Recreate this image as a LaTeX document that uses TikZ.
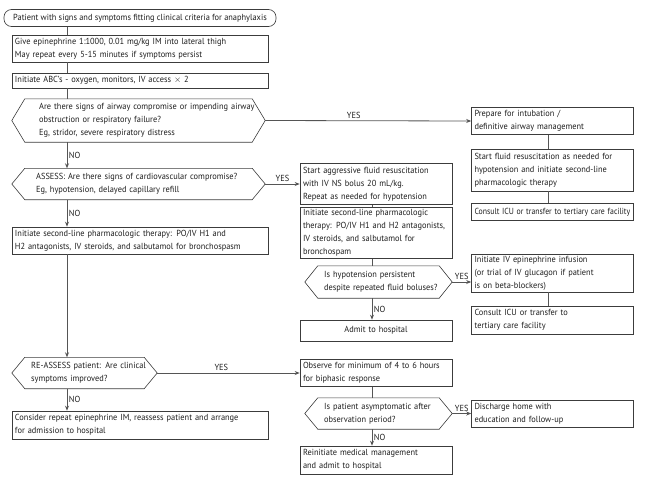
\documentclass[tikz,border=0pt]{standalone}
\usepackage{fontspec}
\setmainfont{PT Sans}[FakeStretch=0.95]
\usetikzlibrary{arrows.meta,calc}
\definecolor{bc}{HTML}{3C3C3C}
\definecolor{cc}{HTML}{555555}
\definecolor{tc}{HTML}{1E1E1E}
\hyphenpenalty=10000
\exhyphenpenalty=10000
\newcommand\fs{\fontsize{8.8}{13}\selectfont}
\newcommand\hexdraw[2]{\draw[draw=bc, line width=0.6pt] ($(#1.north west)+(#2,0)$) -- ($(#1.north east)-(#2,0)$) -- (#1.east) -- ($(#1.south east)-(#2,0)$) -- ($(#1.south west)+(#2,0)$) -- (#1.west) -- cycle;}
\begin{document}
\begin{tikzpicture}[x=1pt,y=-1pt,
  every node/.style={font=\fs, text=tc},
  box/.style={draw=bc, line width=0.6pt, rectangle, inner xsep=3pt, inner ysep=0pt, align=left},
  hexb/.style={draw=none, rectangle, inner sep=0pt},
  htxt/.style={anchor=west, align=left, inner sep=0pt},
  conn/.style={draw=cc, line width=0.8pt},
  arr/.style={conn, -{Stealth[length=5pt,width=4pt]}},
  lab/.style={inner sep=1.5pt}]
\useasboundingbox (0,0) rectangle (667,482);

\coordinate (lt) at (67,0);
\coordinate (mt) at (372,0);
\coordinate (rt) at (548,0);

% left column
\node[box, rounded corners=7.5pt, minimum width=272pt, minimum height=17pt, align=center] (start) at (140,18) {Patient with signs and symptoms fitting clinical criteria for anaphylaxis};
\node[box, minimum height=27pt, text width=250pt] (epi) at (140,48.5) {Give epinephrine 1:1000, 0.01 mg/kg IM into lateral thigh\\May repeat every 5-15 minutes if symptoms persist};
\node[box, minimum height=15pt, text width=250pt] (abc) at (140,80.5) {Initiate ABC's - oxygen, monitors, IV access $\times$ 2};
\node[hexb, minimum width=253pt, minimum height=43pt] (airway) at (138.5,120.5) {};
\node[htxt, text width=222pt] (airwayt) at (39,120.5) {Are there signs of airway compromise or impending airway\\obstruction or respiratory failure?\\Eg, stridor, severe respiratory distress};
\hexdraw{airway}{13}
\node[hexb, minimum width=253pt, minimum height=31pt] (assess) at (138.5,184) {};
\node[htxt, text width=222pt] (assesst) at (36,184) {ASSESS: Are there signs of cardiovascular compromise?\\Eg, hypotension, delayed capillary refill};
\hexdraw{assess}{13}
\node[box, minimum height=27pt, text width=250pt] (left2) at (140,240.5) {Initiate second-line pharmacologic therapy: PO/IV H1 and\\H2 antagonists, IV steroids, and salbutamol for bronchospasm};
\node[hexb, minimum width=145pt, minimum height=31pt] (reassess) at (84.5,373) {};
\node[htxt, text width=124pt] (reassesst) at (31,373) {RE-ASSESS patient: Are clinical\\symptoms improved?};
\hexdraw{reassess}{13}
\node[box, minimum height=28pt, text width=250pt] (consider) at (140,425) {Consider repeat epinephrine IM, reassess patient and arrange\\for admission to hospital};

% middle column
\node[box, minimum height=41pt, text width=146pt] (fluidm) at (376,184) {Start aggressive fluid resuscitation\\with IV NS bolus 20 mL/kg.\\Repeat as needed for hypotension};
\node[box, minimum height=51pt, text width=146pt] (initm) at (376,233) {Initiate second-line pharmacologic\\therapy: PO/IV H1 and H2 antagonists,\\IV steroids, and salbutamol for\\bronchospam};
\node[hexb, minimum width=147pt, minimum height=32pt] (hyp) at (378.5,282) {};
\node[htxt, text width=124pt] (hypt) at (324,282) {Is hypotension persistent\\despite repeated fluid boluses?};
\hexdraw{hyp}{13}
\node[box, minimum height=21pt, text width=146pt, align=center] (admit) at (376,330.5) {Admit to hospital};
\node[box, minimum height=27pt, text width=146pt] (observe) at (376,373) {Observe for minimum of 4 to 6 hours\\for biphasic response};
\node[hexb, minimum width=147pt, minimum height=31pt] (asym) at (378.5,413.5) {};
\node[htxt, text width=124pt] (asymt) at (324,413.5) {Is patient asymptomatic after\\observation period?};
\hexdraw{asym}{13}
\node[box, minimum height=28pt, text width=146pt] (reinit) at (376,460) {Reinitiate medical management\\and admit to hospital};

% right column
\node[box, minimum height=27pt, text width=156pt] (intub) at (552.5,121) {Prepare for intubation /\\definitive airway management};
\node[box, minimum height=42pt, text width=156pt] (fluidr) at (552.5,170) {Start fluid resuscitation as needed for\\hypotension and initiate second-line\\pharmacologic therapy};
\node[box, minimum height=17pt, text width=156pt] (consult1) at (552.5,212) {\scalebox{0.93}[1]{Consult ICU or transfer to tertiary care facility}};
\node[box, minimum height=38pt, text width=156pt] (ivepi) at (552.5,273) {Initiate IV epinephrine infusion\\(or trial of IV glucagon if patient\\is on beta-blockers)};
\node[box, minimum height=28pt, text width=156pt] (consult2) at (552.5,320) {Consult ICU or transfer to\\tertiary care facility};
\node[box, minimum height=27pt, text width=156pt] (discharge) at (552.5,413.5) {Discharge home with\\education and follow-up};

% left connectors
\draw[conn] (start.south -| lt) -- (epi.north -| lt);
\draw[conn] (epi.south -| lt) -- (abc.north -| lt);
\draw[conn] (abc.south -| lt) -- (airway.north -| lt);
\draw[arr] (airway.south -| lt) -- node[lab, right, name=no1] {NO} (assess.north -| lt);
\draw[arr] (assess.south -| lt) -- node[lab, right, name=no2] {NO} (left2.north -| lt);
\draw[arr] (left2.south -| lt) -- (reassess.north -| lt);
\draw[arr] (reassess.south -| lt) -- node[lab, right, name=no3] {NO} (consider.north -| lt);

% yes arrows
\draw[arr] (airway.east) -- node[lab, above, pos=0.43, name=yes1] {YES} (intub.west);
\draw[arr] (assess.east) -- node[lab, above, name=yes2] {YES} (fluidm.west);
\draw[arr] (hyp.east) -- node[lab, above, name=yes3] {YES} (hyp.east -| ivepi.west);
\draw[arr] (reassess.east) -- node[lab, above, pos=0.45, name=yes4] {YES} (reassess.east -| observe.west);
\draw[arr] (asym.east) -- node[lab, above, name=yes5] {YES} (asym.east -| discharge.west);

% right connectors
\draw[conn] (intub.south -| rt) -- (fluidr.north -| rt);
\draw[conn] (fluidr.south -| rt) -- (consult1.north -| rt);
\draw[conn] (ivepi.south -| rt) -- (consult2.north -| rt);

% middle connectors
\draw[conn] (fluidm.south -| mt) -- (initm.north -| mt);
\draw[conn] (initm.south -| mt) -- (hyp.north -| mt);
\draw[arr] (hyp.south -| mt) -- node[lab, right, name=no4] {NO} (admit.north -| mt);
\draw[conn] (observe.south -| mt) -- (asym.north -| mt);
\draw[arr] (asym.south -| mt) -- node[lab, right, name=no5] {NO} (reinit.north -| mt);
\end{tikzpicture}
\end{document}
